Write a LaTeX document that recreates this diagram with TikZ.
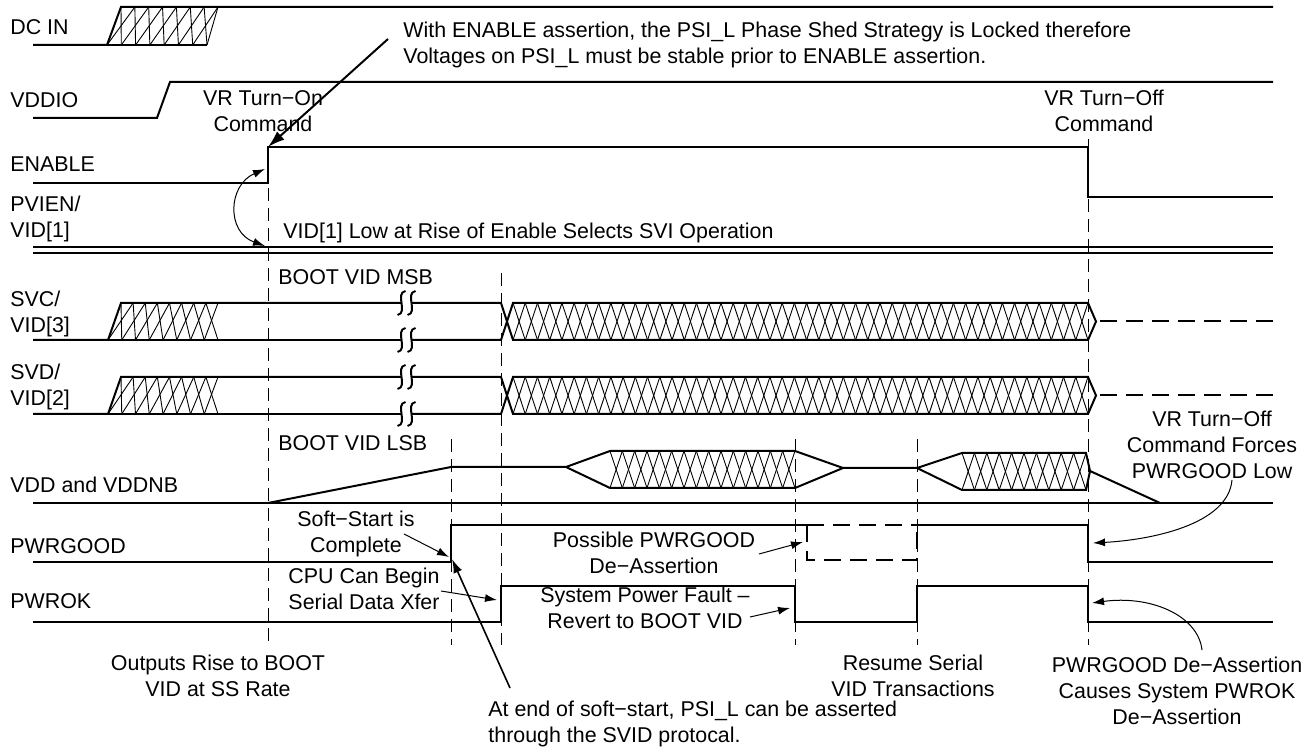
\documentclass[tikz,border=0pt]{standalone}
\usepackage{fontspec}
\setmainfont{Liberation Sans}
\usetikzlibrary{arrows.meta}
\newcommand{\xhatch}[7]{%
  \foreach \hk in {1,...,#5}{
    \draw[hl] ({#1+(\hk-1)*#2},#6) -- ({#3+\hk*#4},#7);
    \draw[hl] ({#1+\hk*#2},#6) -- ({#3+(\hk-1)*#4},#7);
  }}
\newcommand{\brkS}[2]{%
  \draw[line width=1pt] (#1+4,#2-12) .. controls (#1-7,#2-10) and (#1+7,#2+10) .. (#1-4,#2+12);}
\newcommand{\brkmark}[2]{\brkS{#1-5}{#2}\brkS{#1+5}{#2}}
\tikzset{
  sig/.style={line width=1pt, line join=miter},
  hl/.style={line width=0.45pt},
  guide/.style={line width=0.5pt, dash pattern=on 6.5pt off 3.5pt},
  bdash/.style={line width=1pt, dash pattern=on 8.5pt off 4.5pt},
  lbl/.style={inner sep=0pt, font=\fontsize{10.7}{13}\selectfont},
  ptr/.style={line width=0.5pt, -{Latex[length=6pt,width=4pt]}},
  mptr/.style={line width=0.8pt, -{Latex[length=7pt,width=4.5pt]}},
  dptr/.style={line width=0.5pt, {Latex[length=6pt,width=4pt]}-{Latex[length=6pt,width=4pt]}},
  bigptr/.style={line width=1pt, -{Latex[length=8.5pt,width=5.5pt]}},
}
\begin{document}
\begin{tikzpicture}[x=0.5pt,y=-0.5pt]
\useasboundingbox (0,0) rectangle (1310,747);

% guide lines
\draw[guide] (268,188) -- (268,645);
\draw[guide] (451,439) -- (451,645);
\draw[guide] (501,273) -- (501,645);
\draw[guide] (795,439) -- (795,645);
\draw[guide] (917,439) -- (917,645);
\draw[guide] (1088,139) -- (1088,645);

% DC IN
\draw[sig] (33,45) -- (107,45) -- (121,7) -- (1273,7);
\draw[sig] (107,45) -- (207,45);
\draw[hl] (218,7) -- (207,45);
\xhatch{121}{13.857}{107}{14.286}{7}{7}{45}

% VDDIO
\draw[sig] (33,118) -- (157,118) -- (170,82) -- (1273,82);

% ENABLE
\draw[sig] (33,183) -- (268,183) -- (268,147) -- (1088,147) -- (1088,197) -- (1273,197);

% PVIEN
\draw[line width=0.9pt] (33,247) -- (1273,247);
\draw[line width=0.9pt] (33,253) -- (1273,253);

% SVC
\draw[sig] (33,340) -- (108,340) -- (121,303) -- (401.5,303);
\draw[sig] (108,340) -- (401.5,340);
\xhatch{121}{12.125}{108}{13.75}{8}{303}{340}
\draw[sig] (411.5,303) -- (501,303) -- (513,340) -- (1088,340) -- (1096,321.5) -- (1088,303) -- (513,303) -- (501,340) -- (411.5,340);
\xhatch{513}{12.234}{513}{12.234}{47}{303}{340}
\draw[bdash] (1100,321.5) -- (1273,321.5);
\brkmark{406.5}{303}
\brkmark{406.5}{340}

% SVD
\draw[sig] (33,414) -- (108,414) -- (121,377) -- (401.5,377);
\draw[sig] (108,414) -- (401.5,414);
\xhatch{121}{12.125}{108}{13.75}{8}{377}{414}
\draw[sig] (411.5,377) -- (501,377) -- (513,414) -- (1088,414) -- (1096,395.5) -- (1088,377) -- (513,377) -- (501,414) -- (411.5,414);
\xhatch{513}{12.234}{513}{12.234}{47}{377}{414}
\draw[bdash] (1100,395.5) -- (1273,395.5);
\brkmark{406.5}{377}
\brkmark{406.5}{414}

% VDD
\draw[sig] (33,503) -- (1273,503);
\draw[sig] (268,503) -- (451,467) -- (566,467) -- (610,451) -- (795,451) -- (843,468) -- (917,468) -- (962,453) -- (1086,453) -- (1090,471) -- (1086,490) -- (962,490) -- (917,468);
\draw[sig] (566,467) -- (610,488) -- (795,488) -- (843,468);
\draw[sig] (1090,471) -- (1160,503);
\xhatch{610}{12.333}{610}{12.333}{15}{451}{488}
\xhatch{962}{12.4}{962}{12.4}{10}{453}{490}

% PWRGOOD
\draw[sig] (33,562) -- (451,562) -- (451,525) -- (807,525);
\draw[sig] (917,525) -- (1088,525) -- (1088,562) -- (1273,562);
\draw[bdash] (807,525) -- (807,560) -- (917,560) -- (917,525);
\draw[bdash] (807,525) -- (917,525);

% PWROK
\draw[sig] (33,622) -- (501,622) -- (501,586) -- (795,586) -- (795,622) -- (917,622) -- (917,586) -- (1088,586) -- (1088,622) -- (1273,622);

% signal names
\node[lbl, anchor=base west] (ldc) at (10,35) {DC IN};
\node[lbl, anchor=base west] (lvddio) at (10,108) {VDDIO};
\node[lbl, anchor=base west] (len) at (10,172) {ENABLE};
\node[lbl, anchor=north west, align=left] (lpv) at (10,196) {PVIEN/\\VID[1]};
\node[lbl, anchor=north west, align=left] (lsvc) at (10,291) {SVC/\\VID[3]};
\node[lbl, anchor=north west, align=left] (lsvd) at (10,364) {SVD/\\VID[2]};
\node[lbl, anchor=base west] (lvdd) at (10,493) {VDD and VDDNB};
\node[lbl, anchor=base west] (lpg) at (10,553) {PWRGOOD};
\node[lbl, anchor=base west] (lpo) at (10,609) {PWROK};

% annotations
\node[lbl, anchor=north west, align=left] (note) at (403,22) {With ENABLE assertion, the PSI\_L Phase Shed Strategy is Locked therefore\\Voltages on PSI\_L must be stable prior to ENABLE assertion.};
\node[lbl, anchor=north, align=center] (von) at (263,90) {VR Turn−On\\Command};
\node[lbl, anchor=north, align=center] (voff) at (1104,90) {VR Turn−Off\\Command};
\node[lbl, anchor=base west] (vidlow) at (283,239) {VID[1] Low at Rise of Enable Selects SVI Operation};
\node[lbl, anchor=base west] (msb) at (278,285) {BOOT VID MSB};
\node[lbl, anchor=base west] (lsb) at (278,451) {BOOT VID LSB};
\node[lbl, anchor=north, align=center] (soft) at (356,511) {Soft−Start is\\Complete};
\node[lbl, anchor=north, align=center] (cpu) at (364,568) {CPU Can Begin\\Serial Data Xfer};
\node[lbl, anchor=north, align=center] (poss) at (654,532) {Possible PWRGOOD\\De−Assertion};
\node[lbl, anchor=north, align=center] (sysf) at (645,587) {System Power Fault –\\Revert to BOOT VID};
\node[lbl, anchor=north, align=center] (outr) at (218,655) {Outputs Rise to BOOT\\VID at SS Rate};
\node[lbl, anchor=north west, align=left] (atend) at (488,701) {At end of soft−start, PSI\_L can be asserted\\through the SVID protocal.};
\node[lbl, anchor=north, align=center] (resume) at (913,655) {Resume Serial\\VID Transactions};
\node[lbl, anchor=north, align=center] (pgde) at (1177,657) {PWRGOOD De−Assertion\\Causes System PWROK\\De−Assertion};
\node[lbl, anchor=north, align=center] (vroff) at (1212,411) {VR Turn−Off\\Command Forces\\PWRGOOD Low};

% arrows
\coordinate (nstart) at (388,39);
\coordinate (enup) at (268,147);
\draw[bigptr] (nstart) -- (enup);
\coordinate (enmid) at (265,169);
\coordinate (pvtop) at (265,246);
\draw[dptr] (enmid) .. controls (228,185) and (226,232) .. (pvtop);
\coordinate (ss1) at (404,534); \coordinate (ss2) at (449,557);
\draw[ptr] (ss1) -- (ss2);
\coordinate (ae1) at (510,688); \coordinate (ae2) at (452,559);
\draw[mptr] (ae1) -- (ae2);
\coordinate (cpu1) at (441,591); \coordinate (cpu2) at (497,600);
\draw[ptr] (cpu1) -- (cpu2);
\coordinate (pp1) at (759,554); \coordinate (pp2) at (803,542);
\draw[ptr] (pp1) -- (pp2);
\coordinate (sp1) at (750,617); \coordinate (sp2) at (790,608);
\draw[ptr] (sp1) -- (sp2);
\coordinate (vo1) at (1232,480); \coordinate (vo2) at (1093,543);
\draw[ptr] (vo1) .. controls (1228,525) and (1150,540) .. (vo2);
\coordinate (pd1) at (1202,650); \coordinate (pd2) at (1092,603);
\draw[ptr] (pd1) .. controls (1198,615) and (1150,595) .. (pd2);
\end{tikzpicture}
\end{document}
